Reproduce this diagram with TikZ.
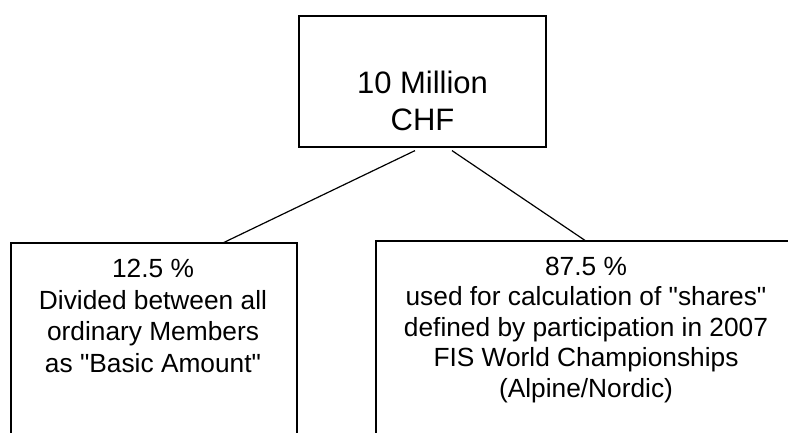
\documentclass[tikz,border=0pt]{standalone}
\usepackage{fontspec}
\setmainfont{Liberation Sans}[Ligatures=TeXOff]
\usetikzlibrary{calc}
\begin{document}
\begin{tikzpicture}[x=1pt,y=-1pt,
  box/.style={draw=black,line width=1.2pt,rectangle,inner sep=0pt,fill=none},
  conn/.style={draw=black,line width=1.2pt},
  bigtxt/.style={inner sep=0pt,align=center,anchor=base,font=\fontsize{31}{37}\selectfont},
  smalltxt/.style={inner sep=0pt,align=center,anchor=base,font=\fontsize{26.3}{31.5}\selectfont}]
\useasboundingbox (0,0) rectangle (788,432);
\clip (0,0) rectangle (788,432);
\fill[white] (0,0) rectangle (788,432);
\node[box,minimum width=247pt,minimum height=131pt] (top) at (422.5,81.5) {};
\node[box,minimum width=286pt,minimum height=220pt] (left) at (154,353) {};
\node[box,minimum width=420pt,minimum height=220pt] (right) at (586,351) {};
\node[bigtxt] (toptext) at (422.5,130) {10 Million\\CHF};
\node[smalltxt] (lefttext) at (153,372) {12.5 \%\\Divided between all\\ordinary Members\\as "Basic Amount"};
\node[smalltxt,font=\fontsize{26.3}{30.5}\selectfont] (righttext) at (586,397) {87.5 \%\\used for calculation of "shares"\\defined by participation in 2007\\FIS World Championships\\(Alpine/Nordic)};
\draw[conn] ($(top.south)+(-7.5,3)$) -- ($(left.north)+(70,0)$);
\draw[conn] ($(top.south)+(29.5,3)$) -- ($(right.north)+(-1,0)$);
\end{tikzpicture}
\end{document}
